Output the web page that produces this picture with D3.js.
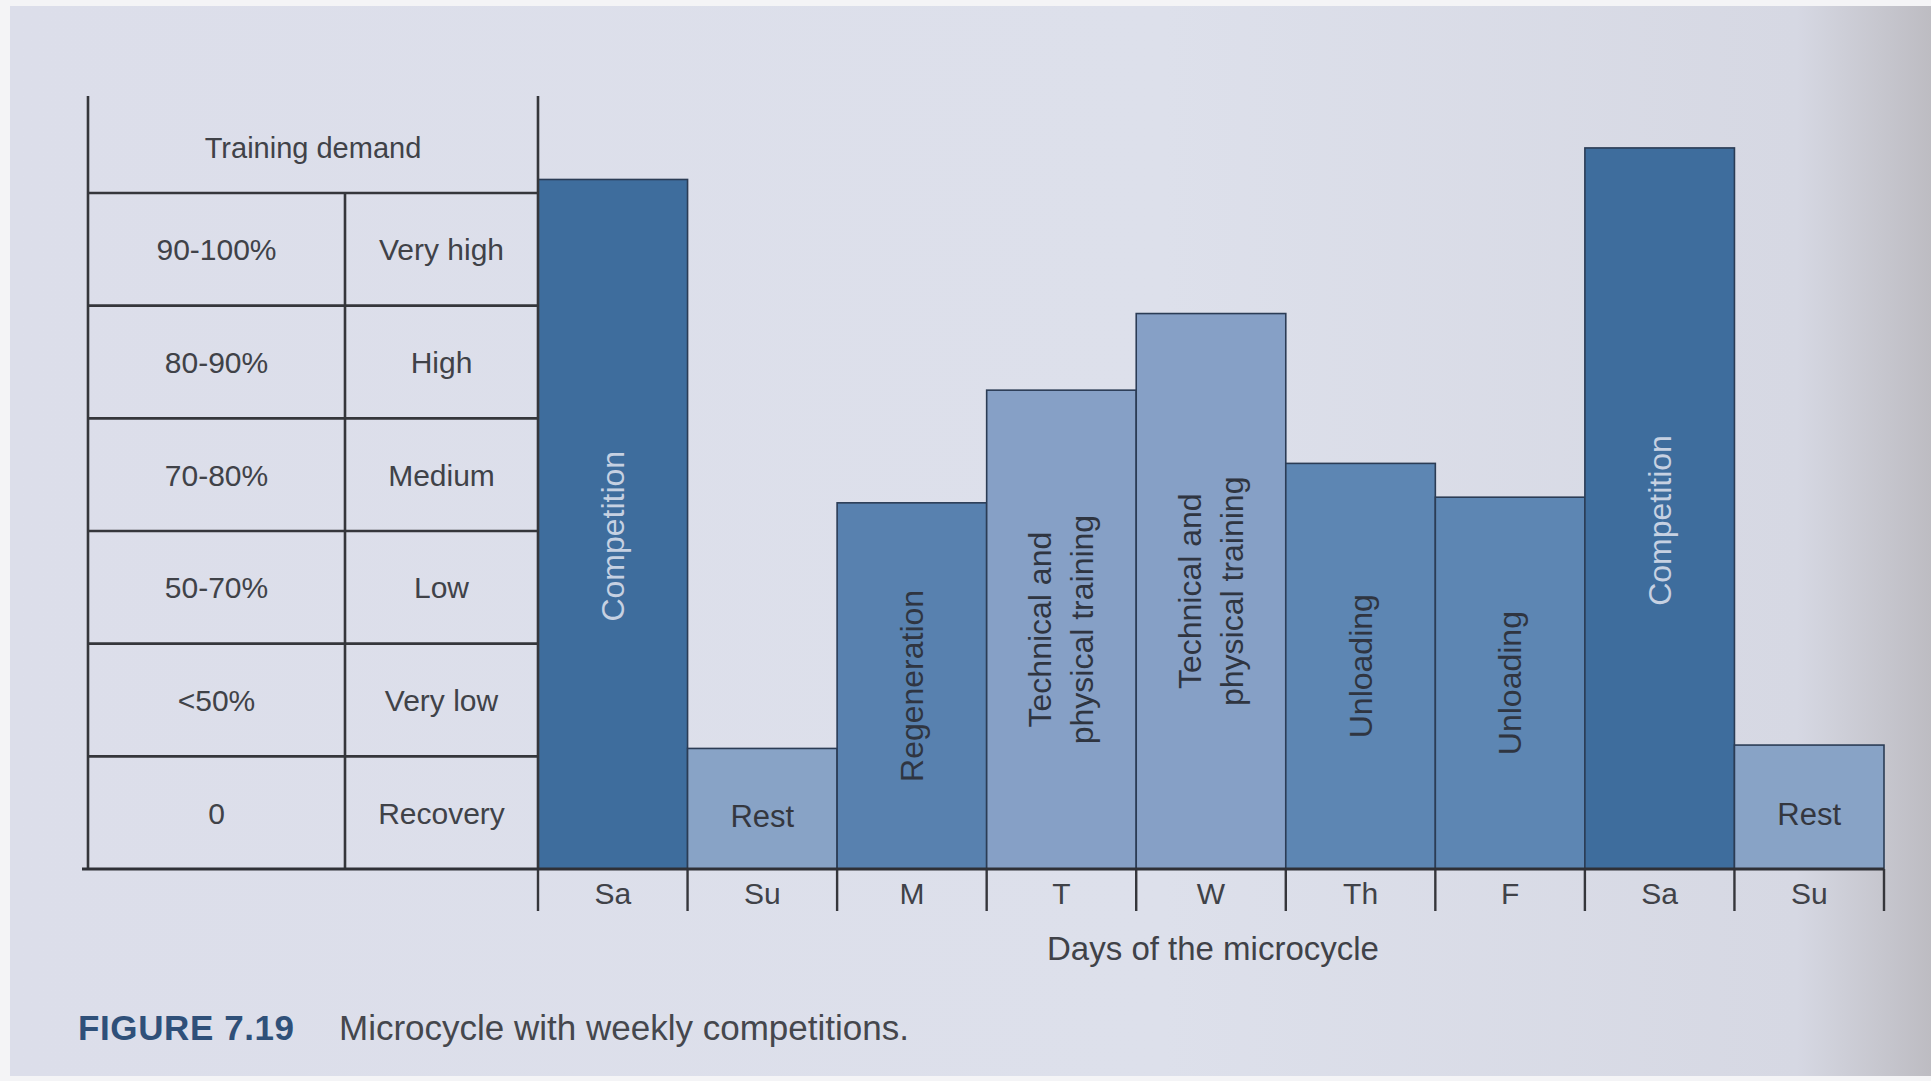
<!DOCTYPE html>
<html>
<head>
<meta charset="utf-8">
<script src="https://cdn.jsdelivr.net/npm/d3@7"></script>
<style>
  html, body { margin: 0; padding: 0; background: #f4f4f6; }
  svg { display: block; }
  text { font-family: "Liberation Sans", Arial, sans-serif; }
</style>
</head>
<body>
<svg id="chart" width="1931" height="1081"></svg>
<script>
// table of training demand levels (top to bottom)
var demandRanges = [ "90-100%", "80-90%", "70-80%", "50-70%", "<50%", "0" ];
var demandNames = [ "Very high", "High", "Medium", "Low", "Very low", "Recovery" ];

// days of the microcycle and the load of each day (in table rows, 0 = baseline)
var days = [ "Sa", "Su", "M", "T", "W", "Th", "F", "Sa", "Su" ];
var loads = [ 6.12, 1.07, 3.25, 4.25, 4.93, 3.6, 3.3, 6.4, 1.1 ];
var kinds = [ "comp", "rest", "regen", "tech", "tech", "unload", "unload", "comp", "rest" ];
var labels = [
    [ "Competition" ],
    [ "Rest" ],
    [ "Regeneration" ],
    [ "Technical and", "physical training" ],
    [ "Technical and", "physical training" ],
    [ "Unloading" ],
    [ "Unloading" ],
    [ "Competition" ],
    [ "Rest" ]
];

var fills = { comp: "#3e6d9d", regen: "#5881af", unload: "#5d86b3", tech: "#86a0c6", rest: "#88a3c6" };
var ink = "#404248";

var svg = d3.select( "#chart" );

// page background with darker right edge
var defs = svg.append( "defs" );
var grad = defs.append( "linearGradient" ).attr( "id", "page" ).attr( "x1", 0 ).attr( "x2", 1 ).attr( "y1", 0 ).attr( "y2", 0 );
grad.append( "stop" ).attr( "offset", "0%" ).attr( "stop-color", "#dcdeea" );
grad.append( "stop" ).attr( "offset", "60%" ).attr( "stop-color", "#dde0eb" );
grad.append( "stop" ).attr( "offset", "93%" ).attr( "stop-color", "#d6d8e3" );
grad.append( "stop" ).attr( "offset", "100%" ).attr( "stop-color", "#bdbcc2" );
svg.append( "rect" ).attr( "x", 10 ).attr( "y", 6 ).attr( "width", 1921 ).attr( "height", 1070 ).attr( "fill", "url(#page)" );

var tableLeft = 88, tableMid = 345, tableTop = 96;
var x = d3.scaleBand().domain( d3.range( days.length ) ).range( [ 538, 1884 ] ).padding( 0 );
var y = d3.scaleLinear().domain( [ 0, 6 ] ).range( [ 869, 193 ] );
var left = x.range()[ 0 ], right = x.range()[ 1 ];

// bars
svg.append( "g" ).selectAll( "rect" )
    .data( loads )
    .join( "rect" )
    .attr( "x", function( d, i ) { return x( i ); } )
    .attr( "y", function( d ) { return y( d ); } )
    .attr( "width", x.bandwidth() )
    .attr( "height", function( d ) { return y( 0 ) - y( d ); } )
    .attr( "fill", function( d, i ) { return fills[ kinds[ i ] ]; } )
    .attr( "stroke", "#2b3c55" )
    .attr( "stroke-width", 1.6 );

// bar labels, centred in each bar
labels.forEach( function( lines, i ) {
    var cx = x( i ) + x.bandwidth() / 2;
    var cy = ( y( loads[ i ] ) + y( 0 ) ) / 2;
    if ( kinds[ i ] === "rest" ) {
        svg.append( "text" )
            .attr( "x", cx ).attr( "y", cy + 18 )
            .attr( "text-anchor", "middle" )
            .attr( "font-size", 31 )
            .attr( "fill", "#34373f" )
            .text( lines[ 0 ] );
        return;
    }
    var shift = kinds[ i ] === "comp" ? 12 : 0;
    var t = svg.append( "text" )
        .attr( "transform", "translate(" + cx + "," + ( cy + shift ) + ") rotate(-90)" )
        .attr( "text-anchor", "middle" )
        .attr( "font-size", 32 )
        .attr( "fill", kinds[ i ] === "comp" ? "#c6d1e2" : "#2f3541" );
    lines.forEach( function( line, k ) {
        t.append( "tspan" )
            .attr( "x", 0 )
            .attr( "y", ( k - ( lines.length - 1 ) / 2 ) * 42 + 11 )
            .text( line );
    } );
} );

// table lines
var grid = svg.append( "g" ).attr( "stroke", "#35363b" ).attr( "stroke-width", 2.6 ).attr( "fill", "none" );
grid.append( "line" ).attr( "x1", tableLeft ).attr( "x2", tableLeft ).attr( "y1", tableTop ).attr( "y2", y( 0 ) );
grid.append( "line" ).attr( "x1", left ).attr( "x2", left ).attr( "y1", tableTop ).attr( "y2", y( 0 ) );
grid.append( "line" ).attr( "x1", tableMid ).attr( "x2", tableMid ).attr( "y1", y( 6 ) ).attr( "y2", y( 0 ) );
grid.selectAll( ".row" )
    .data( d3.range( 1, 7 ) )
    .join( "line" )
    .attr( "x1", tableLeft ).attr( "x2", left )
    .attr( "y1", function( d ) { return y( d ); } )
    .attr( "y2", function( d ) { return y( d ); } );

svg.append( "text" )
    .attr( "x", ( tableLeft + left ) / 2 ).attr( "y", 158 )
    .attr( "text-anchor", "middle" ).attr( "font-size", 29 ).attr( "fill", ink )
    .text( "Training demand" );

var rows = svg.append( "g" ).selectAll( "g" )
    .data( demandRanges )
    .join( "g" )
    .attr( "transform", function( d, i ) { return "translate(0," + ( y( 5.5 - i ) + 11 ) + ")"; } );
rows.append( "text" )
    .attr( "x", ( tableLeft + tableMid ) / 2 )
    .attr( "text-anchor", "middle" ).attr( "font-size", 30 ).attr( "fill", ink )
    .text( function( d ) { return d; } );
rows.append( "text" )
    .attr( "x", ( tableMid + left ) / 2 )
    .attr( "text-anchor", "middle" ).attr( "font-size", 30 ).attr( "fill", ink )
    .text( function( d, i ) { return demandNames[ i ]; } );

// x axis: day labels in the middle of each band, ticks on band edges
var axis = svg.append( "g" )
    .attr( "transform", "translate(0," + y( 0 ) + ")" )
    .call( d3.axisBottom( x ).tickSize( 0 ).tickPadding( 14 ).tickFormat( function( i ) { return days[ i ]; } ) );
axis.select( ".domain" ).remove();
axis.selectAll( "text" ).attr( "font-size", 30 ).attr( "fill", ink ).attr( "font-family", "Liberation Sans, Arial, sans-serif" );

svg.append( "g" ).attr( "stroke", "#35363b" ).attr( "stroke-width", 2.4 )
    .selectAll( "line" )
    .data( d3.range( days.length + 1 ) )
    .join( "line" )
    .attr( "x1", function( i ) { return i < days.length ? x( i ) : right; } )
    .attr( "x2", function( i ) { return i < days.length ? x( i ) : right; } )
    .attr( "y1", y( 0 ) ).attr( "y2", y( 0 ) + 42 );

// baseline across table and chart
svg.append( "line" )
    .attr( "x1", tableLeft - 6 ).attr( "x2", right )
    .attr( "y1", y( 0 ) ).attr( "y2", y( 0 ) )
    .attr( "stroke", "#2f3036" ).attr( "stroke-width", 3 );

svg.append( "text" )
    .attr( "x", 1213 ).attr( "y", 960 )
    .attr( "text-anchor", "middle" ).attr( "font-size", 33 ).attr( "fill", ink )
    .text( "Days of the microcycle" );

// caption
var cap = svg.append( "text" ).attr( "x", 78 ).attr( "y", 1040 ).attr( "font-size", 35 );
cap.append( "tspan" ).attr( "font-weight", "bold" ).attr( "fill", "#2f5079" ).attr( "letter-spacing", 0.6 ).text( "FIGURE 7.19" );
cap.append( "tspan" ).attr( "x", 339 ).attr( "fill", "#45474d" ).text( "Microcycle with weekly competitions." );
</script>
</body>
</html>
